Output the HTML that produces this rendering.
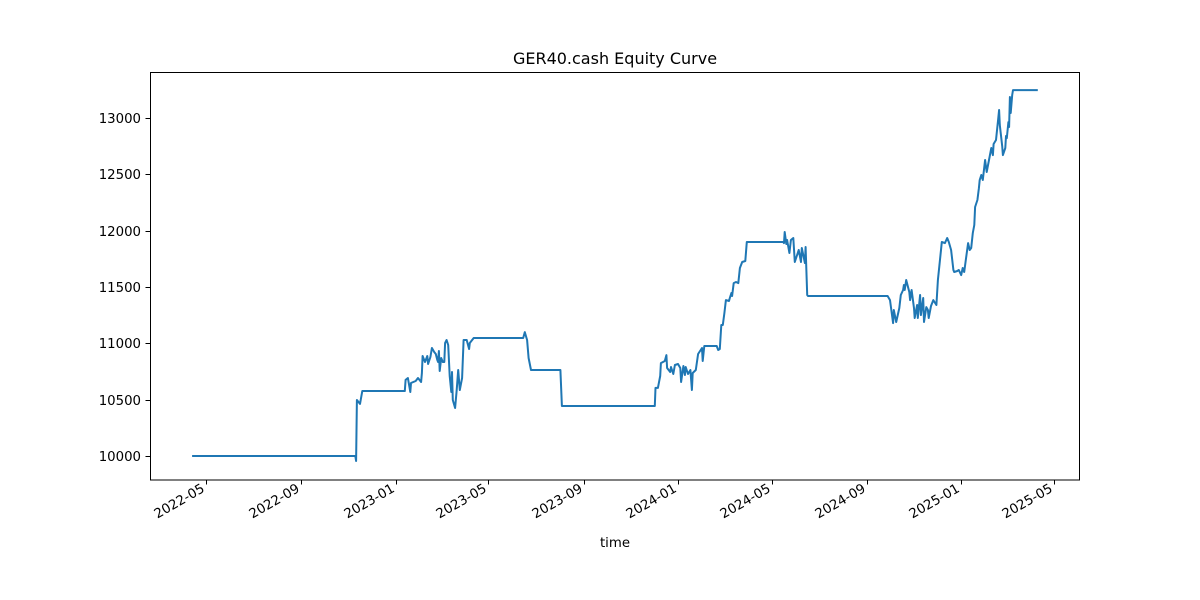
<!DOCTYPE html>
<html><head><meta charset="utf-8"><style>
body{margin:0;background:#fff;}
svg{display:block;font-family:"DejaVu Sans","Liberation Sans",sans-serif;}
</style></head><body>
<svg id="chart" width="1200" height="600">
<rect width="1200" height="600" fill="#fff"/>
<text x="615" y="64" text-anchor="middle" font-size="16">GER40.cash Equity Curve</text>
<text x="615" y="547" text-anchor="middle" font-size="13.3">time</text>
<g id="axes"></g>
<path id="line" fill="none" stroke="#1f77b4" stroke-width="2" stroke-linejoin="round"/>
<rect x="150.5" y="72.5" width="929" height="407.5" fill="none" stroke="#000" stroke-width="1"/>
</svg>
<script>
const baseDate = "2022-05-01";
const dayOffsets = [-18,193,194,195,199,202,257,258,261,264,265,271,274,278,279,280,283,286,287,290,292,295,297,299,300,301,302,304,306,308,309,311,313,315,317,318,319,322,324,326,328,331,333,337,340,341,346,410,412,415,417,420,458,460,580,581,584,587,588,593,595,596,600,601,604,606,610,613,614,617,619,620,623,626,628,629,633,636,641,642,644,660,662,664,666,668,670,672,676,677,679,680,682,685,688,690,693,697,699,746,747,748,750,751,754,756,759,761,764,766,769,770,774,775,777,778,881,884,888,889,892,896,898,901,902,903,905,909,910,912,915,916,919,920,923,924,927,928,931,933,934,937,940,944,946,950,951,955,958,960,963,966,967,971,973,976,978,980,982,985,987,989,991,993,994,997,999,1000,1002,1004,1007,1009,1012,1015,1017,1018,1021,1024,1025,1026,1029,1030,1033,1034,1035,1037,1038,1039,1040,1042,1043,1075];
const equity = [10000,10000,9956,10497,10462,10577,10577,10675,10692,10568,10648,10666,10692,10657,10737,10888,10834,10888,10817,10879,10959,10923,10905,10852,10834,10932,10754,10870,10834,10834,11003,11030,10985,10710,10568,10746,10497,10426,10586,10763,10586,10692,11030,11030,10950,11003,11047,11047,11100,11030,10870,10763,10763,10444,10444,10604,10604,10710,10825,10843,10896,10781,10746,10790,10728,10808,10817,10781,10657,10799,10719,10790,10728,10763,10586,10737,10763,10905,10959,10843,10976,10976,10941,10950,11163,11163,11269,11384,11376,11402,11447,11420,11535,11544,11535,11669,11722,11731,11899,11899,11890,11988,11882,11917,11802,11917,11935,11722,11784,11828,11722,11846,11713,11855,11429,11420,11420,11384,11180,11296,11189,11313,11429,11473,11518,11473,11562,11456,11384,11473,11313,11225,11340,11225,11429,11251,11402,11189,11322,11296,11225,11331,11384,11340,11562,11828,11899,11890,11935,11899,11828,11651,11633,11642,11651,11606,11669,11633,11740,11890,11828,11846,11979,12050,12210,12272,12378,12450,12494,12450,12627,12521,12627,12734,12671,12769,12805,13000,13071,12938,12751,12671,12734,12840,12822,12964,12920,13186,13044,13204,13248,13248];
const xTickLabels = ["2022-05","2022-09","2023-01","2023-05","2023-09","2024-01","2024-05","2024-09","2025-01","2025-05"];
const yTickValues = [10000,10500,11000,11500,12000,12500,13000];

const NS="http://www.w3.org/2000/svg";
const base=Date.parse(baseDate+"T00:00:00Z");
function dayOf(label){return (Date.parse(label+"-01T00:00:00Z")-base)/86400000;}
const xPerDay=(1054-206)/1096;
function xScale(d){return 206+d*xPerDay;}
const yPerUnit=(456-118)/3000;
function yScale(v){return 456-(v-10000)*yPerUnit;}
const axes=document.getElementById('axes');
function mk(tag,attrs){const e=document.createElementNS(NS,tag);for(const k in attrs)e.setAttribute(k,attrs[k]);return e;}
xTickLabels.forEach(lb=>{
  const x=Math.round(xScale(dayOf(lb)))+0.5;
  const t=mk('line',{x1:x,x2:x,y1:480,y2:484.5,stroke:'#000'});
  
  
  axes.appendChild(t);
  const tx=mk('text',{x:x-1,y:491,'text-anchor':'end','font-size':'13.3',transform:`rotate(-30 ${x-1} 491)`});
  
  
  tx.textContent=lb;axes.appendChild(tx);
});
yTickValues.forEach(v=>{
  const y=Math.round(yScale(v))+0.5;
  const t=mk('line',{x1:145.5,x2:150,y1:y,y2:y,stroke:'#000'});
  
  
  axes.appendChild(t);
  const tx=mk('text',{x:141,y:y+4.5,'text-anchor':'end','font-size':'13.3'});
  
  
  tx.textContent=v;axes.appendChild(tx);
});
document.getElementById('line').setAttribute('d',dayOffsets.map((d,i)=>(i?'L':'M')+xScale(d).toFixed(1)+','+yScale(equity[i]).toFixed(1)).join(''));
</script>
</body></html>
